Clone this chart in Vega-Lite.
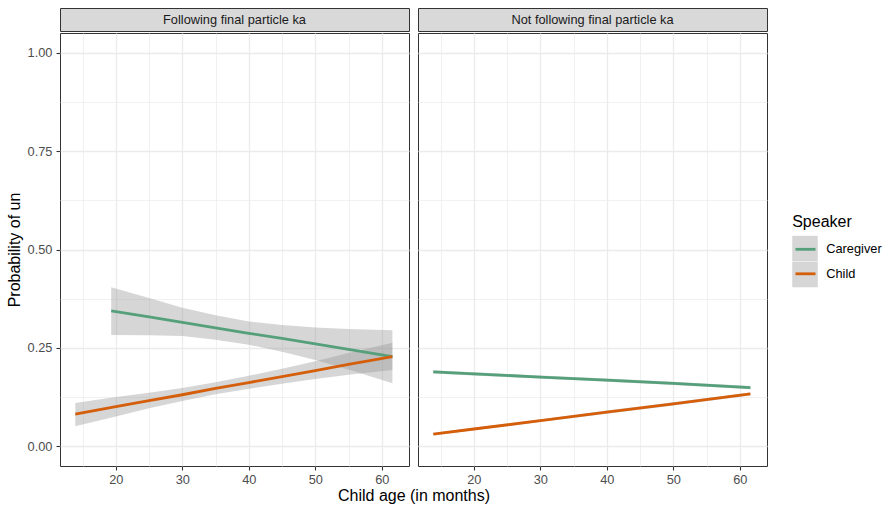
{
  "$schema": "https://vega.github.io/schema/vega-lite/v6.json",
  "background": "white",
  "padding": {"left": 5, "top": 7, "right": 5, "bottom": 5},
  "datasets": {
    "strips": [
      {"panel": "Following final particle ka"},
      {"panel": "Not following final particle ka"}
    ],
    "fits": [
      {"panel": "Following final particle ka", "speaker": "Caregiver", "age": 19.3, "prob": 0.344, "lo": 0.283, "hi": 0.404},
      {"panel": "Following final particle ka", "speaker": "Caregiver", "age": 25, "prob": 0.329, "lo": 0.282, "hi": 0.377},
      {"panel": "Following final particle ka", "speaker": "Caregiver", "age": 30, "prob": 0.315, "lo": 0.280, "hi": 0.352},
      {"panel": "Following final particle ka", "speaker": "Caregiver", "age": 35, "prob": 0.301, "lo": 0.271, "hi": 0.333},
      {"panel": "Following final particle ka", "speaker": "Caregiver", "age": 40, "prob": 0.287, "lo": 0.258, "hi": 0.317},
      {"panel": "Following final particle ka", "speaker": "Caregiver", "age": 45, "prob": 0.274, "lo": 0.240, "hi": 0.308},
      {"panel": "Following final particle ka", "speaker": "Caregiver", "age": 50, "prob": 0.260, "lo": 0.219, "hi": 0.302},
      {"panel": "Following final particle ka", "speaker": "Caregiver", "age": 55, "prob": 0.246, "lo": 0.195, "hi": 0.298},
      {"panel": "Following final particle ka", "speaker": "Caregiver", "age": 61.6, "prob": 0.228, "lo": 0.160, "hi": 0.295},
      {"panel": "Following final particle ka", "speaker": "Child", "age": 13.9, "prob": 0.082, "lo": 0.051, "hi": 0.110},
      {"panel": "Following final particle ka", "speaker": "Child", "age": 20, "prob": 0.101, "lo": 0.076, "hi": 0.125},
      {"panel": "Following final particle ka", "speaker": "Child", "age": 25, "prob": 0.116, "lo": 0.097, "hi": 0.136},
      {"panel": "Following final particle ka", "speaker": "Child", "age": 30, "prob": 0.131, "lo": 0.115, "hi": 0.148},
      {"panel": "Following final particle ka", "speaker": "Child", "age": 35, "prob": 0.147, "lo": 0.132, "hi": 0.163},
      {"panel": "Following final particle ka", "speaker": "Child", "age": 40, "prob": 0.162, "lo": 0.146, "hi": 0.179},
      {"panel": "Following final particle ka", "speaker": "Child", "age": 45, "prob": 0.177, "lo": 0.159, "hi": 0.197},
      {"panel": "Following final particle ka", "speaker": "Child", "age": 50, "prob": 0.192, "lo": 0.171, "hi": 0.216},
      {"panel": "Following final particle ka", "speaker": "Child", "age": 55, "prob": 0.208, "lo": 0.182, "hi": 0.237},
      {"panel": "Following final particle ka", "speaker": "Child", "age": 61.6, "prob": 0.228, "lo": 0.194, "hi": 0.263},
      {"panel": "Not following final particle ka", "speaker": "Caregiver", "age": 13.9, "prob": 0.189, "lo": 0.185, "hi": 0.193},
      {"panel": "Not following final particle ka", "speaker": "Caregiver", "age": 20, "prob": 0.184, "lo": 0.180, "hi": 0.188},
      {"panel": "Not following final particle ka", "speaker": "Caregiver", "age": 30, "prob": 0.176, "lo": 0.172, "hi": 0.180},
      {"panel": "Not following final particle ka", "speaker": "Caregiver", "age": 40, "prob": 0.168, "lo": 0.164, "hi": 0.172},
      {"panel": "Not following final particle ka", "speaker": "Caregiver", "age": 50, "prob": 0.160, "lo": 0.156, "hi": 0.164},
      {"panel": "Not following final particle ka", "speaker": "Caregiver", "age": 61.6, "prob": 0.149, "lo": 0.145, "hi": 0.153},
      {"panel": "Not following final particle ka", "speaker": "Child", "age": 13.9, "prob": 0.031, "lo": 0.028, "hi": 0.034},
      {"panel": "Not following final particle ka", "speaker": "Child", "age": 20, "prob": 0.044, "lo": 0.041, "hi": 0.047},
      {"panel": "Not following final particle ka", "speaker": "Child", "age": 30, "prob": 0.065, "lo": 0.062, "hi": 0.068},
      {"panel": "Not following final particle ka", "speaker": "Child", "age": 40, "prob": 0.087, "lo": 0.083, "hi": 0.091},
      {"panel": "Not following final particle ka", "speaker": "Child", "age": 50, "prob": 0.108, "lo": 0.104, "hi": 0.112},
      {"panel": "Not following final particle ka", "speaker": "Child", "age": 61.6, "prob": 0.133, "lo": 0.129, "hi": 0.137}
    ]
  },
  "spacing": 0,
  "vconcat": [
    {
      "hconcat": [
        {
          "data": {"name": "strips"},
          "transform": [{"filter": "datum.panel === 'Following final particle ka'"}],
          "width": 349, "height": 23,
          "view": {"fill": "#D9D9D9", "stroke": "#333333", "strokeWidth": 1},
          "mark": {"type": "text", "fontSize": 12.8, "color": "#1A1A1A", "font": "Liberation Sans"},
          "encoding": {"text": {"field": "panel", "type": "nominal"}}
        },
        {
          "data": {"name": "strips"},
          "transform": [{"filter": "datum.panel === 'Not following final particle ka'"}],
          "width": 349, "height": 23,
          "view": {"fill": "#D9D9D9", "stroke": "#333333", "strokeWidth": 1},
          "mark": {"type": "text", "fontSize": 12.8, "color": "#1A1A1A", "font": "Liberation Sans"},
          "encoding": {"text": {"field": "panel", "type": "nominal"}}
        }
      ],
      "spacing": 9,
      "bounds": "flush"
    },
    {
      "hconcat": [
        {
          "data": {"name": "fits"},
          "transform": [{"filter": "datum.panel === 'Following final particle ka'"}],
          "width": 349, "height": 433,
          "encoding": {
            "x": {
              "field": "age", "type": "quantitative",
              "scale": {"domain": [11.6, 64.1], "nice": false, "zero": false},
              "axis": {
                "values": [15, 20, 25, 30, 35, 40, 45, 50, 55, 60],
                "title": "Child age (in months)",
                "titleX": 353.5,
                "labelExpr": "datum.value % 10 === 0 ? datum.label : ''",
                "gridWidth": {"condition": {"test": "datum.value % 10 === 0", "value": 1.3}, "value": 0.7},
                "tickOpacity": {"condition": {"test": "datum.value % 10 === 0", "value": 1}, "value": 0}
              }
            }
          },
          "layer": [
            {
              "mark": {"type": "area", "fillOpacity": 0.4},
              "encoding": {
                "y": {
                  "field": "lo", "type": "quantitative",
                  "scale": {"domain": [-0.05, 1.05], "nice": false, "zero": false},
                  "axis": {
                    "values": [0, 0.125, 0.25, 0.375, 0.5, 0.625, 0.75, 0.875, 1],
                    "title": "Probability of un",
                    "labelExpr": "(datum.value * 4) % 1 === 0 ? format(datum.value, '.2f') : ''",
                    "gridWidth": {"condition": {"test": "(datum.value * 4) % 1 === 0", "value": 1.3}, "value": 0.7},
                    "tickOpacity": {"condition": {"test": "(datum.value * 4) % 1 === 0", "value": 1}, "value": 0}
                  }
                },
                "y2": {"field": "hi"},
                "fill": {
                  "field": "speaker", "type": "nominal",
                  "scale": {"domain": ["Caregiver", "Child"], "range": ["#999999", "#999999"]},
                  "legend": {
                    "title": null,
                    "orient": "none",
                    "legendX": 731.7,
                    "legendY": 227.8,
                    "zindex": 0,
                    "symbolType": "square",
                    "symbolSize": 650,
                    "symbolStrokeWidth": 0,
                    "symbolOpacity": 0.4,
                    "labelExpr": "''",
                    "labelOpacity": 0,
                    "rowPadding": 0,
                    "encode": {
                      "symbols": {"update": {"x": {"value": 13.3}, "y": {"value": 12.75}}}
                    }
                  }
                }
              }
            },
            {
              "mark": {"type": "line", "strokeWidth": 2.8},
              "encoding": {
                "y": {
                  "field": "prob", "type": "quantitative",
                  "scale": {"domain": [-0.05, 1.05], "nice": false, "zero": false},
                  "axis": {
                    "values": [0, 0.125, 0.25, 0.375, 0.5, 0.625, 0.75, 0.875, 1],
                    "title": "Probability of un",
                    "labelExpr": "(datum.value * 4) % 1 === 0 ? format(datum.value, '.2f') : ''",
                    "gridWidth": {"condition": {"test": "(datum.value * 4) % 1 === 0", "value": 1.3}, "value": 0.7},
                    "tickOpacity": {"condition": {"test": "(datum.value * 4) % 1 === 0", "value": 1}, "value": 0}
                  }
                },
                "stroke": {
                  "field": "speaker", "type": "nominal",
                  "scale": {"range": ["#55A07A", "#D55E0B"]},
                  "legend": {
                    "title": "Speaker",
                    "orient": "none",
                    "legendX": 732.2,
                    "legendY": 206.3,
                    "zindex": 1,
                    "symbolType": "stroke",
                    "symbolSize": 400,
                    "symbolStrokeWidth": 2.8,
                    "rowPadding": 3.5,
                    "encode": {
                      "symbols": {"update": {"x": {"value": 13.3}, "y": {"value": 14}}},
                      "labels": {"update": {"x": {"value": 34}, "y": {"value": 14}}}
                    }
                  }
                }
              }
            }
          ]
        },
        {
          "data": {"name": "fits"},
          "transform": [{"filter": "datum.panel === 'Not following final particle ka'"}],
          "width": 349, "height": 433,
          "encoding": {
            "x": {
              "field": "age", "type": "quantitative",
              "scale": {"domain": [11.6, 64.1], "nice": false, "zero": false},
              "axis": {
                "values": [15, 20, 25, 30, 35, 40, 45, 50, 55, 60],
                "title": null,
                "labelExpr": "datum.value % 10 === 0 ? datum.label : ''",
                "gridWidth": {"condition": {"test": "datum.value % 10 === 0", "value": 1.3}, "value": 0.7},
                "tickOpacity": {"condition": {"test": "datum.value % 10 === 0", "value": 1}, "value": 0}
              }
            }
          },
          "layer": [
            {
              "mark": {"type": "area", "fillOpacity": 0.4},
              "encoding": {
                "y": {
                  "field": "lo", "type": "quantitative",
                  "scale": {"domain": [-0.05, 1.05], "nice": false, "zero": false},
                  "axis": {
                    "values": [0, 0.125, 0.25, 0.375, 0.5, 0.625, 0.75, 0.875, 1],
                    "title": null, "labels": false, "ticks": false,
                    "gridWidth": {"condition": {"test": "(datum.value * 4) % 1 === 0", "value": 1.3}, "value": 0.7}
                  }
                },
                "y2": {"field": "hi"},
                "fill": {"field": "speaker", "type": "nominal"}
              }
            },
            {
              "mark": {"type": "line", "strokeWidth": 2.8},
              "encoding": {
                "y": {
                  "field": "prob", "type": "quantitative",
                  "scale": {"domain": [-0.05, 1.05], "nice": false, "zero": false},
                  "axis": {
                    "values": [0, 0.125, 0.25, 0.375, 0.5, 0.625, 0.75, 0.875, 1],
                    "title": null, "labels": false, "ticks": false,
                    "gridWidth": {"condition": {"test": "(datum.value * 4) % 1 === 0", "value": 1.3}, "value": 0.7}
                  }
                },
                "stroke": {"field": "speaker", "type": "nominal"}
              }
            }
          ]
        }
      ],
      "spacing": 9,
      "bounds": "flush"
    }
  ],
  "config": {
    "font": "Liberation Sans",
    "view": {"stroke": "#333333", "strokeWidth": 1},
    "axis": {
      "domain": false,
      "gridColor": "#EBEBEB",
      "tickColor": "#333333",
      "tickSize": 4,
      "tickWidth": 1.1,
      "labelColor": "#4D4D4D",
      "labelFontSize": 12.8,
      "labelFont": "Liberation Sans",
      "titleFont": "Liberation Sans",
      "titleFontSize": 16,
      "titleFontWeight": "normal",
      "titleColor": "#000000",
      "labelOverlap": false
    },
    "axisY": {"titlePadding": 5, "labelPadding": 4},
    "axisX": {"titlePadding": 1.5, "labelPadding": 3.5, "labelFlush": false},
    "legend": {
      "titleFontSize": 16,
      "titleFontWeight": "normal",
      "titleColor": "#000000",
      "titleFont": "Liberation Sans",
      "titlePadding": 5,
      "labelFontSize": 12.8,
      "labelColor": "#000000",
      "labelFont": "Liberation Sans",
      "padding": 0
    }
  }
}
